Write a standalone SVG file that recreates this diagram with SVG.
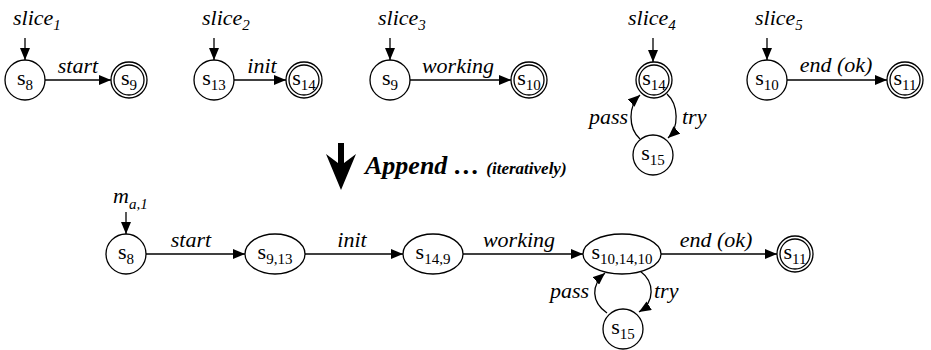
<svg xmlns="http://www.w3.org/2000/svg" width="931" height="350" viewBox="0 0 931 350">
<defs>
<style>
.n{fill:#fff;stroke:#000;stroke-width:1.3}
.e{fill:none;stroke:#000;stroke-width:1.3;marker-end:url(#ah)}
.t,.l,.ap{font-family:'Liberation Serif',Tinos,'Nimbus Roman','Times New Roman',Times,'DejaVu Serif',serif;fill:#000}
.t{font-size:22px}
.l{font-size:22px;font-style:italic}
.ap{font-size:26px;font-weight:bold;font-style:italic}
.sub{font-size:15px}
</style>
<marker id="ah" viewBox="0 0 12 10" refX="12" refY="5" markerWidth="12" markerHeight="10" markerUnits="userSpaceOnUse" orient="auto"><path d="M0,0 L12,5 L0,10 Z" fill="#000"/></marker>
</defs>
<rect width="931" height="350" fill="#fff"/>

<g id="connectors">
<path class="e" d="M25,38 V60"/>
<path class="e" d="M45,80 H111"/>
<path class="e" d="M214,38 V60"/>
<path class="e" d="M234,80 H286"/>
<path class="e" d="M390,38 V60"/>
<path class="e" d="M410,80 H511"/>
<path class="e" d="M653,38 V62"/>
<path class="e" d="M667,94 C679,105 679,128 668,138"/>
<path class="e" d="M640,139 C628,128 628,106 640,95"/>
<path class="e" d="M767,38 V60"/>
<path class="e" d="M787,80 H887"/>
<path class="e" d="M126,212 V234"/>
<path class="e" d="M146,254 H245"/>
<path class="e" d="M305,254 H403"/>
<path class="e" d="M463,254 H583"/>
<path class="e" d="M661,254 H777"/>
<path class="e" d="M640,271 C655,282 655,302 639,312"/>
<path class="e" d="M607,313 C591,302 591,285 605,273"/>
</g>

<g id="labels">
<text class="l" x="13" y="25">slice<tspan class="sub" dy="5">1</tspan></text>
<text class="l" x="202" y="25">slice<tspan class="sub" dy="5">2</tspan></text>
<text class="l" x="378" y="25">slice<tspan class="sub" dy="5">3</tspan></text>
<text class="l" x="628" y="25">slice<tspan class="sub" dy="5">4</tspan></text>
<text class="l" x="755" y="25">slice<tspan class="sub" dy="5">5</tspan></text>
<text class="l" x="78" y="73" text-anchor="middle">start</text>
<text class="l" x="262" y="73" text-anchor="middle">init</text>
<text class="l" x="458" y="73" text-anchor="middle">working</text>
<text class="l" x="836" y="72" text-anchor="middle">end (ok)</text>
<text class="l" x="628" y="124" text-anchor="end">pass</text>
<text class="l" x="682" y="124">try</text>
<text class="l" x="113" y="203">m<tspan class="sub" dy="6">a,1</tspan></text>
<text class="l" x="191" y="247" text-anchor="middle">start</text>
<text class="l" x="352" y="247" text-anchor="middle">init</text>
<text class="l" x="519" y="247" text-anchor="middle">working</text>
<text class="l" x="716" y="247" text-anchor="middle">end (ok)</text>
<text class="l" x="589" y="298" text-anchor="end">pass</text>
<text class="l" x="654" y="298">try</text>
</g>

<g id="append">
<path d="M338,143 H344 V163 L356,154 L341,190 L326,154 L338,163 Z" fill="#000"/>
<text class="ap" x="365" y="174">Append … <tspan font-size="17">(iteratively)</tspan></text>
</g>

<g id="t_s8"><circle class="n" cx="25" cy="80" r="20"/><text class="t" x="25" y="85" text-anchor="middle">s<tspan class="sub" dy="5">8</tspan></text></g>
<g id="t_s9"><circle class="n" cx="129" cy="80" r="18"/><circle class="n" cx="129" cy="80" r="15"/><text class="t" x="129" y="85" text-anchor="middle">s<tspan class="sub" dy="5">9</tspan></text></g>
<g id="t_s13"><circle class="n" cx="214" cy="80" r="20"/><text class="t" x="214" y="85" text-anchor="middle">s<tspan class="sub" dy="5">13</tspan></text></g>
<g id="t_s14"><circle class="n" cx="304" cy="80" r="18"/><circle class="n" cx="304" cy="80" r="15"/><text class="t" x="304" y="85" text-anchor="middle">s<tspan class="sub" dy="5">14</tspan></text></g>
<g id="t_s9b"><circle class="n" cx="390" cy="80" r="20"/><text class="t" x="390" y="85" text-anchor="middle">s<tspan class="sub" dy="5">9</tspan></text></g>
<g id="t_s10"><circle class="n" cx="529" cy="80" r="18"/><circle class="n" cx="529" cy="80" r="15"/><text class="t" x="529" y="85" text-anchor="middle">s<tspan class="sub" dy="5">10</tspan></text></g>
<g id="t_s14b"><circle class="n" cx="654" cy="80" r="18"/><circle class="n" cx="654" cy="80" r="15"/><text class="t" x="654" y="85" text-anchor="middle">s<tspan class="sub" dy="5">14</tspan></text></g>
<g id="t_s15"><circle class="n" cx="653" cy="155" r="20"/><text class="t" x="653" y="160" text-anchor="middle">s<tspan class="sub" dy="5">15</tspan></text></g>
<g id="t_s10b"><circle class="n" cx="767" cy="80" r="20"/><text class="t" x="767" y="85" text-anchor="middle">s<tspan class="sub" dy="5">10</tspan></text></g>
<g id="t_s11"><circle class="n" cx="905" cy="80" r="18"/><circle class="n" cx="905" cy="80" r="15"/><text class="t" x="905" y="85" text-anchor="middle">s<tspan class="sub" dy="5">11</tspan></text></g>

<g id="m_s8"><circle class="n" cx="126" cy="254" r="20"/><text class="t" x="126" y="259" text-anchor="middle">s<tspan class="sub" dy="5">8</tspan></text></g>
<g id="m_s9_13"><ellipse class="n" cx="275" cy="254" rx="30" ry="20"/><text class="t" x="275" y="259" text-anchor="middle">s<tspan class="sub" dy="5">9,13</tspan></text></g>
<g id="m_s14_9"><ellipse class="n" cx="433" cy="254" rx="30" ry="20"/><text class="t" x="433" y="259" text-anchor="middle">s<tspan class="sub" dy="5">14,9</tspan></text></g>
<g id="m_s10_14_10"><ellipse class="n" cx="622" cy="254" rx="39" ry="20"/><text class="t" x="622" y="259" text-anchor="middle">s<tspan class="sub" dy="5">10,14,10</tspan></text></g>
<g id="m_s11"><circle class="n" cx="795" cy="254" r="18"/><circle class="n" cx="795" cy="254" r="15"/><text class="t" x="795" y="259" text-anchor="middle">s<tspan class="sub" dy="5">11</tspan></text></g>
<g id="m_s15"><circle class="n" cx="623" cy="329" r="20"/><text class="t" x="623" y="334" text-anchor="middle">s<tspan class="sub" dy="5">15</tspan></text></g>
</svg>
